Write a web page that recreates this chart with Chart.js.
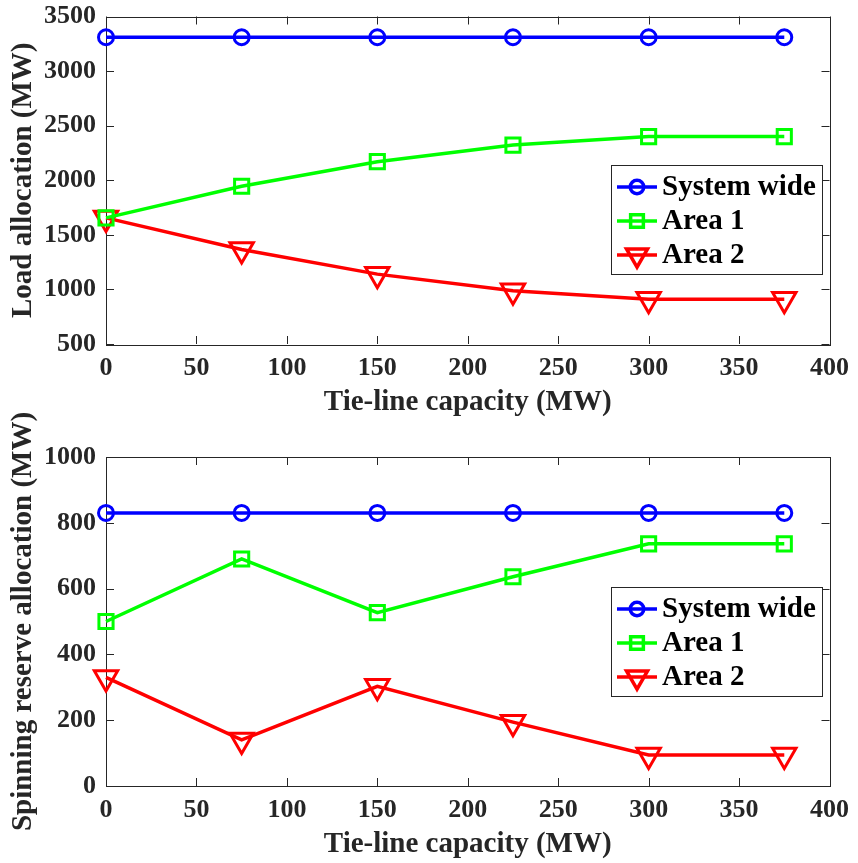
<!DOCTYPE html>
<html>
<head>
<meta charset="utf-8">
<script src="https://cdn.jsdelivr.net/npm/chart.js@4.4.0/dist/chart.umd.min.js"></script>
<style>
  html, body { margin: 0; padding: 0; background: #fff; }
  #wrap { position: relative; width: 858px; height: 863px; }
  canvas { position: absolute; left: 0; }
</style>
</head>
<body>
<div id="wrap">
  <canvas id="loadChart" width="858" height="421" style="top:0"></canvas>
  <canvas id="reserveChart" width="858" height="468" style="top:395px"></canvas>
</div>
<script>
// tie-line capacity (MW) on the x axis
const capacity = [0, 75, 150, 225, 300, 375];
const seriesNames = ['System wide', 'Area 1', 'Area 2'];

// load allocation (MW)
const systemLoad = [3310, 3310, 3310, 3310, 3310, 3310];
const area1Load = [1655, 1945, 2170, 2322, 2400, 2400];
const area2Load = [1655, 1365, 1140, 988, 910, 910];

// spinning reserve allocation (MW)
const systemReserve = [830, 830, 830, 830, 830, 830];
const area1Reserve = [500, 690, 527, 636, 736, 736];
const area2Reserve = [330, 140, 303, 194, 94, 94];

// tick labels
const xTicks = [0, 50, 100, 150, 200, 250, 300, 350, 400];
const loadTicks = [500, 1000, 1500, 2000, 2500, 3000, 3500];
const reserveTicks = [0, 200, 400, 600, 800, 1000];

const AXIS = '#262626';
const FONT = "'Liberation Serif', 'Times New Roman', Times, serif";

// line + marker look for each series
const styles = [
  { color: '#0000ff', pointStyle: 'circle', radius: 7.5, rotation: 0 },
  { color: '#00ff00', pointStyle: 'rect', radius: 10, rotation: 0 },
  { color: '#ff0000', pointStyle: 'triangle', radius: 13.5, rotation: 180 },
];

/** box around the plot area with inward-facing ticks on all four sides */
const boxTicks = {
  id: 'boxTicks',
  beforeDatasetsDraw(chart) {
    const { ctx, chartArea: a, scales: { x, y } } = chart;
    const len = 8;
    ctx.save();
    ctx.strokeStyle = AXIS;
    ctx.lineWidth = 1;
    ctx.strokeRect(Math.round(a.left) + 0.5, Math.round(a.top) + 0.5,
      Math.round(a.width), Math.round(a.height));
    ctx.beginPath();
    x.ticks.forEach((t) => {
      const px = Math.round(x.getPixelForValue(t.value)) + 0.5;
      ctx.moveTo(px, a.bottom); ctx.lineTo(px, a.bottom - len);
      ctx.moveTo(px, a.top); ctx.lineTo(px, a.top + len);
    });
    y.ticks.forEach((t) => {
      const py = Math.round(y.getPixelForValue(t.value)) + 0.5;
      ctx.moveTo(a.left, py); ctx.lineTo(a.left + len, py);
      ctx.moveTo(a.right, py); ctx.lineTo(a.right - len, py);
    });
    ctx.stroke();
    ctx.restore();
  },
};

/** framed legend in the right half of the plot, line sample with marker */
const boxLegend = {
  id: 'boxLegend',
  afterDatasetsDraw(chart, args, opts) {
    const { ctx, chartArea: a } = chart;
    const left = Math.round(a.right - opts.right - opts.width);
    const top = Math.round(a.top + opts.top);
    ctx.save();
    ctx.fillStyle = '#fff';
    ctx.fillRect(left, top, opts.width, opts.height);
    ctx.strokeStyle = AXIS;
    ctx.lineWidth = 1;
    ctx.strokeRect(left + 0.5, top + 0.5, opts.width, opts.height);

    chart.data.datasets.forEach((ds, i) => {
      const cy = top + opts.firstRow + i * opts.rowGap;
      ctx.strokeStyle = ds.borderColor;
      ctx.lineWidth = ds.borderWidth;
      ctx.beginPath();
      ctx.moveTo(left + 6, cy);
      ctx.lineTo(left + 46, cy);
      ctx.stroke();
      ctx.fillStyle = 'rgba(0,0,0,0)';
      Chart.helpers.drawPoint(ctx, {
        pointStyle: ds.pointStyle,
        radius: ds.pointRadius * 0.9,
        rotation: ds.pointRotation,
        borderWidth: ds.pointBorderWidth,
      }, left + 26, cy);

      ctx.fillStyle = '#000';
      ctx.font = `bold 29px ${FONT}`;
      ctx.textBaseline = 'middle';
      ctx.fillText(ds.label, left + 51, cy + 1);
    });
    ctx.restore();
  },
};

const makeDataset = (label, values, i) => ({
  label,
  data: values.map((v, k) => ({ x: capacity[k], y: v })),
  borderColor: styles[i].color,
  borderWidth: 3.5,
  pointStyle: styles[i].pointStyle,
  pointRadius: styles[i].radius,
  pointRotation: styles[i].rotation,
  pointBorderWidth: 3,
  pointBorderColor: styles[i].color,
  pointBackgroundColor: 'rgba(0,0,0,0)',
  tension: 0,
  clip: false,
});

const plain = (v) => String(v);

const makeChart = (canvasId, series, yRange, yTicks, yTitle, layoutTop, legendTop) => {
  const tickFont = { family: FONT, size: 26, weight: 'bold' };
  // short line height keeps the top label from pushing the plot area down
  const yTickFont = { family: FONT, size: 26, weight: 'bold', lineHeight: 0.3 };
  const titleFont = { family: FONT, size: 29, weight: 'bold' };
  return new Chart(document.getElementById(canvasId), {
    type: 'line',
    data: { datasets: series.map((s, i) => makeDataset(seriesNames[i], s, i)) },
    options: {
      responsive: false,
      animation: false,
      events: [],
      layout: { padding: { top: layoutTop, right: 21, bottom: 0, left: 0 } },
      plugins: {
        legend: { display: false },
        tooltip: { enabled: false },
        boxLegend: { width: 211, height: 109, right: 8, top: legendTop, firstRow: 22, rowGap: 34 },
      },
      scales: {
        x: {
          type: 'linear',
          min: 0, max: 400,
          afterBuildTicks: (s) => { s.ticks = xTicks.map((v) => ({ value: v })); },
          afterFit: (s) => { s.height = 77; },
          grid: { display: false, drawTicks: false },
          border: { display: false },
          ticks: { font: tickFont, color: AXIS, padding: 9, maxRotation: 0, callback: plain },
          title: { display: true, text: 'Tie-line capacity (MW)', font: titleFont, color: AXIS, padding: { top: 0, bottom: 1 } },
        },
        y: {
          type: 'linear',
          min: yRange[0], max: yRange[1],
          afterBuildTicks: (s) => { s.ticks = yTicks.map((v) => ({ value: v })); },
          afterFit: (s) => { s.width = 106; },
          grid: { display: false, drawTicks: false },
          border: { display: false },
          ticks: { font: yTickFont, color: AXIS, padding: 10, callback: plain },
          title: { display: true, text: yTitle, font: titleFont, color: AXIS, padding: { top: 6, bottom: 0 } },
        },
      },
    },
    plugins: [boxTicks, boxLegend],
  });
};

makeChart('loadChart', [systemLoad, area1Load, area2Load], [500, 3500], loadTicks,
  'Load allocation (MW)', 15, 148);
makeChart('reserveChart', [systemReserve, area1Reserve, area2Reserve], [0, 1000], reserveTicks,
  'Spinning reserve allocation (MW)', 62, 130);
</script>
</body>
</html>
